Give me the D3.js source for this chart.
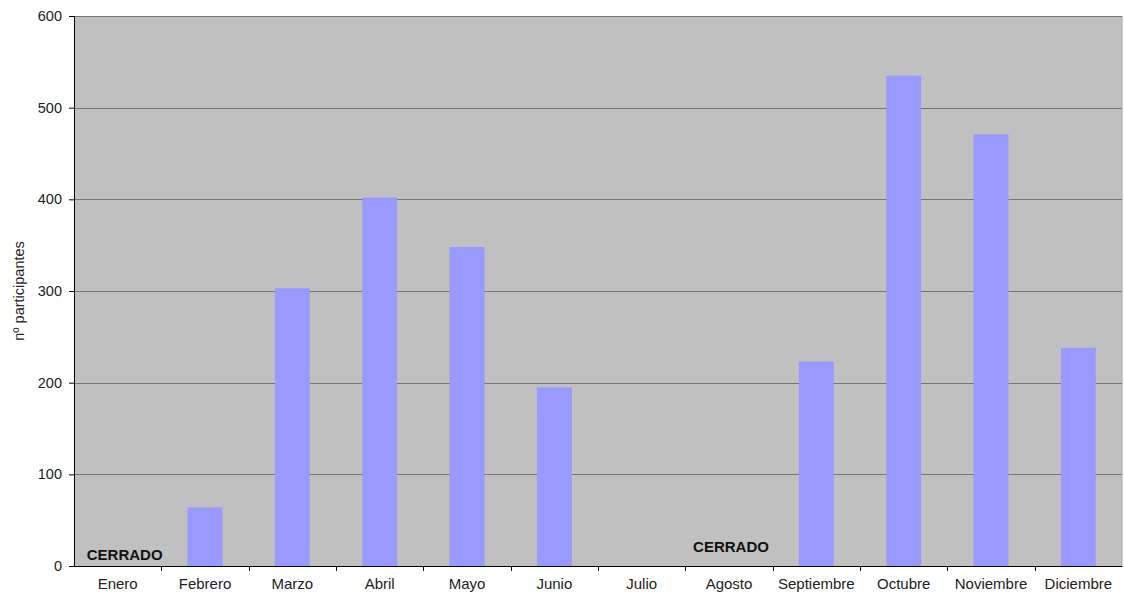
<!DOCTYPE html>
<html><head><meta charset="utf-8">
<script src="https://cdn.jsdelivr.net/npm/d3@7"></script>
<style>
html,body{margin:0;padding:0;background:#fff;}
text{font-family:"Liberation Sans",Arial,sans-serif;}
</style></head>
<body><svg id="c" width="1124" height="596"></svg>
<script>
const months = ["Enero","Febrero","Marzo","Abril","Mayo","Junio","Julio","Agosto","Septiembre","Octubre","Noviembre","Diciembre"];
const participantes = [null,64,303,402,348,195,null,null,223,535,471,238];
const yTicks = [0,100,200,300,400,500,600];
const closedLabels = [{month:"Enero", text:"CERRADO", level:6, dx:7},{month:"Agosto", text:"CERRADO", level:14, dx:2}];
const yTitle = "nº participantes";

const svg = d3.select("#c");
const m = {l:74, r:1122, t:16, b:566};
const x = d3.scaleBand().domain(months).range([m.l, m.r]).paddingInner(0.6).paddingOuter(0.3);
const xb = d3.scaleBand().domain(months).range([m.l, m.r]);
const y = d3.scaleLinear().domain([0,600]).range([m.b, m.t]);

svg.append("rect").attr("x",m.l).attr("y",m.t).attr("width",m.r-m.l).attr("height",m.b-m.t).attr("fill","#c0c0c0");
svg.append("line").attr("x1",m.r).attr("x2",m.r).attr("y1",m.t).attr("y2",m.b).attr("stroke","#a8a8a8");

svg.append("g").selectAll("line").data(yTicks.filter(d=>d>0)).join("line")
  .attr("x1",m.l).attr("x2",m.r).attr("y1",d=>Math.round(y(d))+0.5).attr("y2",d=>Math.round(y(d))+0.5)
  .attr("stroke","#767676").attr("stroke-width",1);

svg.append("g").selectAll("rect").data(months.map((mo,i)=>({mo,v:participantes[i]})).filter(d=>d.v!=null)).join("rect")
  .attr("x",d=>x(d.mo)).attr("width",x.bandwidth())
  .attr("y",d=>y(d.v)).attr("height",d=>y(0)-y(d.v)).attr("fill","#9999ff");

// y axis
const ya = svg.append("g").attr("transform",`translate(${m.l},0)`)
  .call(d3.axisLeft(y).tickValues(yTicks).tickSize(5).tickPadding(7));
ya.select(".domain").attr("stroke","#000");
ya.selectAll(".tick line").attr("stroke","#000");
ya.selectAll("text").attr("font-size",14.5).attr("fill","#222").attr("font-family","Liberation Sans, Arial, sans-serif");

// x axis
const xa = svg.append("g").attr("transform",`translate(0,${m.b})`)
  .call(d3.axisBottom(xb).tickSize(0).tickPadding(12));
xa.select(".domain").attr("stroke","#000");
xa.selectAll("text").attr("font-size",15).attr("fill","#222").attr("font-family","Liberation Sans, Arial, sans-serif");
svg.append("g").selectAll("line").data(months.slice(1)).join("line")
  .attr("x1",d=>Math.round(xb(d))+0.5).attr("x2",d=>Math.round(xb(d))+0.5)
  .attr("y1",m.b).attr("y2",m.b+5).attr("stroke","#000");

// CERRADO labels
svg.append("g").selectAll("text").data(closedLabels).join("text")
  .attr("x",d=>xb(d.month)+xb.bandwidth()/2+d.dx).attr("y",d=>y(0)-d.level)
  .attr("text-anchor","middle").attr("font-size",15).attr("font-weight","bold").attr("fill","#111")
  .text(d=>d.text);

svg.append("text").attr("transform",`translate(24,${(m.t+m.b)/2}) rotate(-90)`)
  .attr("text-anchor","middle").attr("font-size",14.5).attr("fill","#222").text(yTitle);
</script></body></html>
